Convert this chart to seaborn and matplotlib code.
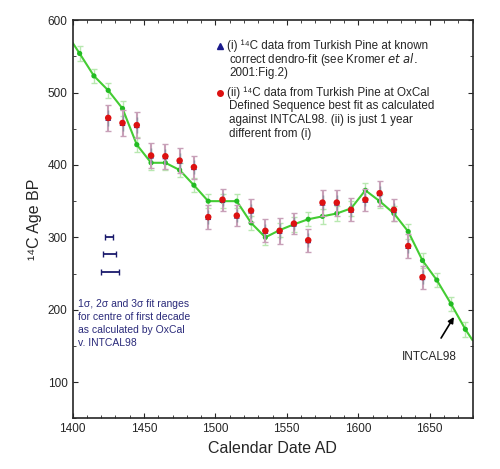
import matplotlib
matplotlib.use("Agg")
import matplotlib.pyplot as plt
import seaborn as sns
import pandas as pd
import numpy as np

sns.set_style("ticks")
plt.rcParams['font.family'] = ['Liberation Sans', 'DejaVu Sans']

cal_years = [1400, 1405, 1415, 1425, 1435, 1445, 1455, 1465, 1475, 1485, 1495, 1505, 1515, 1525,
             1535, 1545, 1555, 1565, 1575, 1585, 1595, 1605, 1615, 1625, 1635, 1645, 1655, 1665, 1675, 1680]
cal_bp = [569, 554, 523, 503, 478, 428, 403, 403, 393, 372, 350, 350, 350, 320,
          300, 310, 318, 325, 329, 333, 340, 365, 350, 333, 308, 268, 241, 208, 173, 158]

tp_years = [1425, 1435, 1445, 1455, 1465, 1475, 1485, 1495, 1505, 1515, 1525, 1535, 1545,
            1555, 1565, 1575, 1585, 1595, 1605, 1615, 1625, 1635, 1645]
tp_bp = [465, 458, 455, 413, 412, 406, 397, 328, 352, 330, 337, 309, 309,
         319, 296, 348, 348, 338, 352, 361, 338, 288, 245]
tp_err = [18, 18, 18, 17, 17, 17, 16, 17, 15, 15, 16, 16, 18, 15, 16, 18, 18, 16, 15, 17, 15, 16, 16]

sig_y = [300, 277, 252]
sig_lo = [1423, 1421.5, 1419.6]
sig_hi = [1428.7, 1430.6, 1432.2]

cal = pd.DataFrame({"year": cal_years, "bp": cal_bp})
tp = pd.DataFrame({"year": tp_years, "bp": tp_bp, "err": tp_err})

fig, ax = plt.subplots(figsize=(5.0, 4.69), dpi=100)
fig.subplots_adjust(left=0.145, right=0.945, top=0.957, bottom=0.108)

ax.errorbar(cal["year"][1:-1], cal["bp"][1:-1], yerr=10, fmt="none", ecolor="#b8e8b0", elinewidth=1, capsize=2, zorder=1)
sns.lineplot(data=cal, x="year", y="bp", ax=ax, color="#44cc33", lw=1.5, zorder=2)
sns.scatterplot(data=cal.iloc[1:-1], x="year", y="bp", ax=ax, color="#22bb22", s=14, edgecolor="none", zorder=3)

ax.errorbar(tp["year"], tp["bp"], yerr=tp["err"], fmt="none", ecolor="#c8a0b8", elinewidth=1.5, capsize=2, zorder=4)
ax.errorbar(tp["year"], tp["bp"], yerr=tp["err"] * 0.6, fmt="none", ecolor="#9090a0", elinewidth=1, capsize=0, zorder=4)
sns.scatterplot(data=tp, x="year", y="bp", ax=ax, color="#1a1a8c", marker="^", s=18, edgecolor="none", zorder=5)
sns.scatterplot(data=tp, x="year", y="bp", ax=ax, color="#dd1111", marker="o", s=22, edgecolor="none", zorder=6)

for y, lo, hi in zip(sig_y, sig_lo, sig_hi):
    ax.errorbar([(lo + hi) / 2], [y], xerr=[[(hi - lo) / 2], [(hi - lo) / 2]], fmt="none",
                ecolor="#1a1a6c", elinewidth=1.3, capsize=2)

ax.text(1404, 215, "1σ, 2σ and 3σ fit ranges\nfor centre of first decade\nas calculated by OxCal\nv. INTCAL98",
        color="#2a2a7a", fontsize=7.5, va="top", linespacing=1.4)

ax.plot([1503], [565], marker="^", color="#1a1a8c", ms=4)
leg1 = ["(i) ¹⁴C data from Turkish Pine at known",
        "correct dendro-fit (see Kromer $\\it{et\\ al.}$",
        "2001:Fig.2)"]
ax.plot([1503], [500], marker="o", color="#dd1111", ms=4)
leg2 = ["(ii) ¹⁴C data from Turkish Pine at OxCal",
        "Defined Sequence best fit as calculated",
        "against INTCAL98. (ii) is just 1 year",
        "different from (i)"]
for i, t in enumerate(leg1):
    ax.text(1508 if i == 0 else 1509.5, 565 - i * 19, t, fontsize=8.4, va="center")
for i, t in enumerate(leg2):
    ax.text(1508 if i == 0 else 1509.5, 500 - i * 19, t, fontsize=8.4, va="center")

ax.annotate("INTCAL98", xy=(1667, 190), xytext=(1650, 135), ha="center", va="center", fontsize=8.5,
            arrowprops=dict(arrowstyle="-|>", color="black", lw=1.2, shrinkA=8, shrinkB=0))

ax.set_xlim(1400, 1680)
ax.set_ylim(50, 600)
ax.set_xticks([1400, 1450, 1500, 1550, 1600, 1650])
ax.set_xticks(np.arange(1400, 1681, 10), minor=True)
ax.set_yticks([100, 200, 300, 400, 500, 600])
ax.set_yticks(np.arange(50, 601, 50), minor=True)
ax.tick_params(which="both", direction="in", top=True, right=True, labelsize=8.5)
ax.tick_params(which="minor", length=2)
ax.set_xlabel("Calendar Date AD", fontsize=11.5)
ax.set_ylabel("¹⁴C Age BP", fontsize=11.5)
for s in ax.spines.values():
    s.set_linewidth(1.2)
fig.savefig("out.png", dpi=100)
